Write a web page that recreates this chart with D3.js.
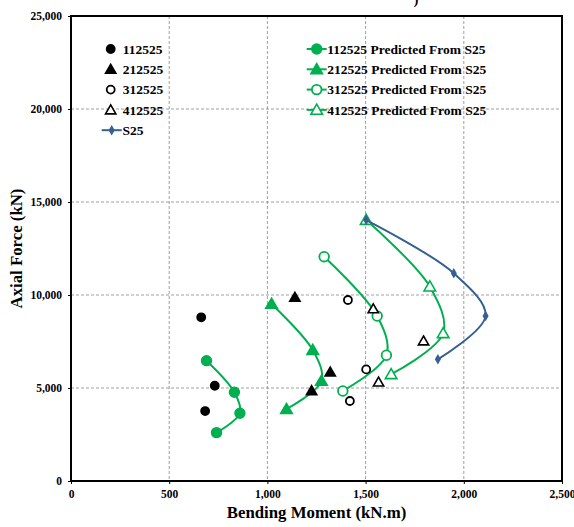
<!DOCTYPE html>
<html>
<head>
<meta charset="utf-8">
<script src="https://cdn.jsdelivr.net/npm/d3@7"></script>
<style>
  body { margin: 0; background: #fff; }
  svg text { font-family: "Liberation Serif", "Times New Roman", serif; font-weight: bold; }
</style>
</head>
<body>
<div id="container"></div>
<script>
// measured points (bending moment kN.m, axial force kN)
var s25 = [[1503, 14030], [1949, 11170], [2111, 8870], [1868, 6540]];
var t112525 = [[663, 8800], [732, 5120], [683, 3760]];
var t212525 = [[1140, 9880], [1320, 5860], [1225, 4860]];
var t312525 = [[1410, 9730], [1503, 6000], [1420, 4300]];
var t412525 = [[1539, 9260], [1795, 7530], [1566, 5320]];
var p112525 = [[690, 6470], [832, 4770], [860, 3640], [741, 2600]];
var p212525 = [[1021, 9520], [1231, 7040], [1275, 5380], [1097, 3860]];
var p312525 = [[1289, 12060], [1559, 8870], [1606, 6760], [1384, 4840]];
var p412525 = [[1503, 14030], [1827, 10450], [1895, 7940], [1630, 5740]];

var xTicks = [0, 500, 1000, 1500, 2000, 2500];
var yTicks = [0, 5000, 10000, 15000, 20000, 25000];

(function(){
    var width = 574, height = 527;
    var left = 71, right = 562, top = 16, bottom = 481;
    var green = "#00b050", blue = "#35608f";

    var svg = d3.select("#container").append("svg")
        .attr("width", width).attr("height", height);

    var x = d3.scaleLinear().domain([0, 2500]).range([left, right]);
    var y = d3.scaleLinear().domain([0, 25000]).range([bottom, top]);
    var fmt = d3.format(",");

    // cut-off title remnant at the very top
    svg.append("text").attr("x", 416).attr("y", 4).attr("text-anchor", "middle")
        .attr("font-size", 14).text(")");

    // gridlines
    svg.append("g").selectAll("line").data(xTicks.slice(1, -1)).join("line")
        .attr("x1", d => x(d)).attr("x2", d => x(d))
        .attr("y1", top).attr("y2", bottom)
        .attr("stroke", "#888").attr("stroke-width", 0.8).attr("stroke-dasharray", "3,2");
    svg.append("g").selectAll("line").data(yTicks.slice(1, -1)).join("line")
        .attr("x1", left).attr("x2", right)
        .attr("y1", d => y(d)).attr("y2", d => y(d))
        .attr("stroke", "#888").attr("stroke-width", 0.8).attr("stroke-dasharray", "3,2");

    // axes
    var xAxis = svg.append("g").attr("transform", "translate(0," + bottom + ")")
        .call(d3.axisBottom(x).tickValues(xTicks).tickFormat(fmt).tickSize(3).tickPadding(6));
    var yAxis = svg.append("g").attr("transform", "translate(" + left + ",0)")
        .call(d3.axisLeft(y).tickValues(yTicks).tickFormat(fmt).tickSize(3).tickPadding(6));
    [xAxis, yAxis].forEach(function(g){
        g.select(".domain").remove();
        g.selectAll("text").attr("font-size", 11.5)
            .attr("font-family", "Liberation Serif, serif").attr("font-weight", "bold").attr("fill", "#000");
        g.selectAll("line").attr("stroke", "#000");
    });
    yAxis.selectAll("text").attr("dy", "0.32em");

    // plot box
    svg.append("rect").attr("x", left).attr("y", top)
        .attr("width", right - left).attr("height", bottom - top)
        .attr("fill", "none").attr("stroke", "#000").attr("stroke-width", 2);

    // axis titles
    svg.append("text").attr("x", (left + right) / 2).attr("y", 518)
        .attr("text-anchor", "middle").attr("font-size", 16.8).text("Bending Moment (kN.m)");
    svg.append("text").attr("transform", "translate(22," + ((top + bottom) / 2) + ") rotate(-90)")
        .attr("text-anchor", "middle").attr("font-size", 16.8).text("Axial Force (kN)");

    var line = d3.line().x(d => x(d[0])).y(d => y(d[1])).curve(d3.curveCatmullRom.alpha(0.5));
    var tri = d3.symbol().type(d3.symbolTriangle);
    var dia = d3.symbol().type(d3.symbolDiamond).size(32);

    function drawMarker(g, type, fill, stroke, px, py, big) {
        if (type === "circle") {
            g.append("circle").attr("cx", px).attr("cy", py).attr("r", big ? 4.8 : 4)
                .attr("fill", fill).attr("stroke", stroke).attr("stroke-width", 1.8);
        } else if (type === "tri") {
            g.append("path").attr("d", tri.size(big ? 58 : 46)())
                .attr("transform", "translate(" + px + "," + (py + 1) + ")")
                .attr("fill", fill).attr("stroke", stroke).attr("stroke-width", 1.6);
        } else {
            g.append("path").attr("d", dia()).attr("transform", "translate(" + px + "," + py + ")")
                .attr("fill", fill);
        }
    }

    var series = [
        {data: p112525, type: "circle", fill: green, stroke: green, color: green, line: true},
        {data: p212525, type: "tri", fill: green, stroke: green, color: green, line: true},
        {data: p312525, type: "circle", fill: "#fff", stroke: green, color: green, line: true},
        {data: p412525, type: "tri", fill: "#fff", stroke: green, color: green, line: true},
        {data: s25, type: "diamond", fill: blue, stroke: blue, color: blue, line: true},
        {data: t112525, type: "circle", fill: "#000", stroke: "#000"},
        {data: t212525, type: "tri", fill: "#000", stroke: "#000"},
        {data: t312525, type: "circle", fill: "#fff", stroke: "#000"},
        {data: t412525, type: "tri", fill: "#fff", stroke: "#000"}
    ];

    series.forEach(function(s){
        var g = svg.append("g");
        if (s.line) {
            g.append("path").attr("d", line(s.data)).attr("fill", "none")
                .attr("stroke", s.color).attr("stroke-width", 2);
        }
        s.data.forEach(function(d){
            drawMarker(g, s.type, s.fill, s.stroke, x(d[0]), y(d[1]), s.line);
        });
    });

    // legend
    var legLeft = [
        {label: "112525", s: series[5]},
        {label: "212525", s: series[6]},
        {label: "312525", s: series[7]},
        {label: "412525", s: series[8]},
        {label: "S25", s: series[4]}
    ];
    var legRight = [
        {label: "112525 Predicted From S25", s: series[0]},
        {label: "212525 Predicted From S25", s: series[1]},
        {label: "312525 Predicted From S25", s: series[2]},
        {label: "412525 Predicted From S25", s: series[3]}
    ];
    var lg = svg.append("g");
    function legendRow(item, i, mx, tx) {
        var ly = 49 + i * 20.3;
        if (item.s.line) {
            lg.append("line").attr("x1", mx - 10).attr("x2", mx + 10)
                .attr("y1", ly).attr("y2", ly)
                .attr("stroke", item.s.color).attr("stroke-width", 2);
        }
        drawMarker(lg, item.s.type, item.s.fill, item.s.stroke, mx, ly, item.s.line);
        lg.append("text").attr("x", tx).attr("y", ly).attr("dy", "0.35em")
            .attr("font-size", 13.5).text(item.label);
    }
    legLeft.forEach(function(d, i){
        var mx = d.label === "S25" ? 111.7 : 110.7;
        legendRow(d, i, mx, d.label === "S25" ? 122.5 : 122.7);
    });
    legRight.forEach(function(d, i){ legendRow(d, i, 316.7, 327.3); });
})();
</script>
</body>
</html>
